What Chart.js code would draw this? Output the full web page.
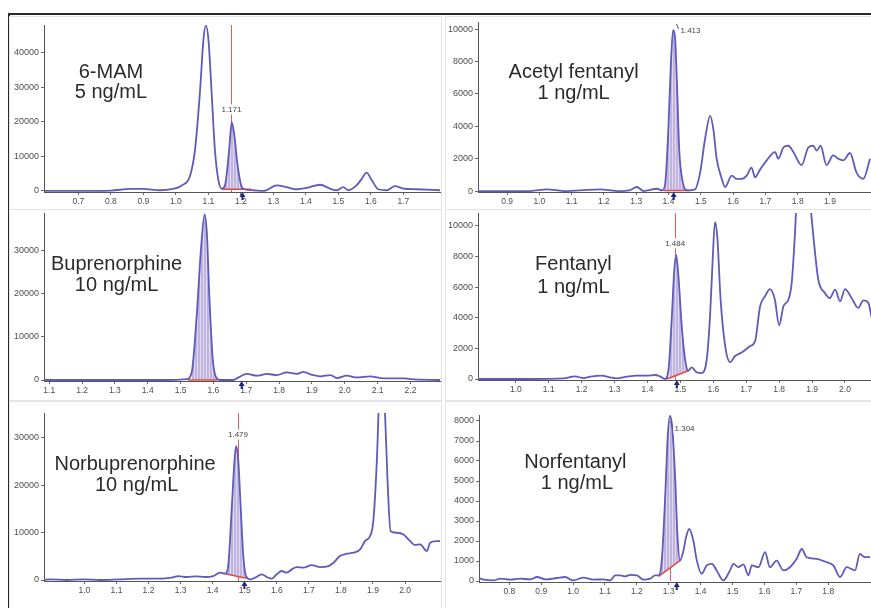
<!DOCTYPE html>
<html>
<head>
<meta charset="utf-8">
<script src="https://cdn.jsdelivr.net/npm/chart.js@4.4.1/dist/chart.umd.min.js"></script>
<style>
  html, body { margin: 0; padding: 0; background: #fff; }
  body { width: 871px; height: 608px; position: relative; overflow: hidden; }
  .frame { position: absolute; left: 8px; top: 13px; width: 900px; height: 700px; border-top: 2px solid #2b2b2b; border-left: 2px solid #2b2b2b; }
  .panel { position: absolute; outline: 1px solid #e4e4e4; background: #fff; }
  .panel canvas { display: block; }
</style>
</head>
<body>
<div class="frame"></div>
<div class="panel" style="left:10px;top:17px;width:431px;height:193px"><canvas id="mamChart"></canvas></div>
<div class="panel" style="left:446px;top:17px;width:425px;height:193px"><canvas id="acetylChart"></canvas></div>
<div class="panel" style="left:10px;top:210px;width:431px;height:190px"><canvas id="bupChart"></canvas></div>
<div class="panel" style="left:446px;top:210px;width:425px;height:190px"><canvas id="fentChart"></canvas></div>
<div class="panel" style="left:10px;top:402px;width:431px;height:206px"><canvas id="norbupChart"></canvas></div>
<div class="panel" style="left:446px;top:402px;width:425px;height:206px"><canvas id="norfentChart"></canvas></div>
<script>
// retention time (min) and signal (counts)
const mamTime = [0.597, 0.70, 0.80, 0.86, 0.90, 0.95, 0.99, 1.018, 1.044, 1.059, 1.074, 1.085, 1.092, 1.10, 1.11, 1.12, 1.131, 1.141, 1.151, 1.156, 1.164, 1.172, 1.180, 1.190, 1.201, 1.211, 1.238, 1.27, 1.31, 1.34, 1.372, 1.403, 1.444, 1.474, 1.495, 1.515, 1.53, 1.556, 1.572, 1.587, 1.603, 1.623, 1.649, 1.674, 1.70, 1.741, 1.813];
const mamSignal = [0, 0, 100, 600, 600, 200, 600, 1600, 4500, 12000, 28500, 44000, 47800, 44000, 28500, 12000, 3000, 700, 1600, 4500, 12000, 19900, 16000, 7400, 1600, 500, 200, 0, 1600, 1100, 500, 900, 1800, 700, 200, 1100, 200, 1600, 3500, 5300, 3100, 500, 200, 1400, 700, 500, 200];
const mamXTicks = [0.7, 0.8, 0.9, 1.0, 1.1, 1.2, 1.3, 1.4, 1.5, 1.6, 1.7];
const mamYTicks = [0, 10000, 20000, 30000, 40000];

const acetylTime = [0.81, 0.972, 1.024, 1.075, 1.127, 1.189, 1.24, 1.281, 1.302, 1.323, 1.364, 1.38, 1.389, 1.399, 1.407, 1.414, 1.42, 1.426, 1.433, 1.444, 1.459, 1.482, 1.498, 1.513, 1.529, 1.539, 1.549, 1.565, 1.575, 1.596, 1.611, 1.627, 1.642, 1.657, 1.668, 1.684, 1.704, 1.73, 1.74, 1.756, 1.771, 1.787, 1.812, 1.833, 1.848, 1.859, 1.871, 1.889, 1.91, 1.925, 1.941, 1.962, 1.982, 2.003, 2.024];
const acetylSignal = [0, 0, 100, 0, 40, 100, 0, 60, 250, 0, 140, 40, 350, 3600, 7700, 9950, 9550, 6700, 2600, 550, 40, 100, 1150, 3200, 4650, 3800, 2000, 750, 250, 950, 750, 750, 950, 1450, 850, 1350, 1900, 2400, 2000, 2700, 2800, 2400, 1600, 2700, 2800, 2500, 2800, 1600, 2200, 2000, 1900, 2350, 1150, 750, 2000];
const acetylXTicks = [0.9, 1.0, 1.1, 1.2, 1.3, 1.4, 1.5, 1.6, 1.7, 1.8, 1.9];
const acetylYTicks = [0, 2000, 4000, 6000, 8000, 10000];

const bupTime = [1.085, 1.458, 1.519, 1.534, 1.549, 1.562, 1.573, 1.58, 1.588, 1.598, 1.608, 1.62, 1.661, 1.676, 1.702, 1.732, 1.763, 1.793, 1.823, 1.854, 1.874, 1.9, 1.925, 1.956, 1.976, 2.006, 2.037, 2.078, 2.108, 2.138, 2.179, 2.2, 2.29];
const bupSignal = [0, 0, 200, 1800, 14800, 30200, 38400, 34000, 18600, 4800, 600, 0, 0, 600, 1400, 1000, 1400, 1150, 1750, 1400, 1900, 1200, 850, 1150, 450, 1000, 600, 850, 450, 400, 400, 200, 0];
const bupXTicks = [1.1, 1.2, 1.3, 1.4, 1.5, 1.6, 1.7, 1.8, 1.9, 2.0, 2.1, 2.2];
const bupYTicks = [0, 10000, 20000, 30000];

const fentTime = [0.885, 1.044, 1.145, 1.18, 1.205, 1.226, 1.261, 1.286, 1.307, 1.337, 1.367, 1.398, 1.423, 1.438, 1.453, 1.464, 1.474, 1.481, 1.487, 1.494, 1.504, 1.514, 1.524, 1.534, 1.55, 1.565, 1.58, 1.59, 1.598, 1.605, 1.612, 1.622, 1.636, 1.651, 1.666, 1.686, 1.712, 1.727, 1.742, 1.757, 1.772, 1.787, 1.8, 1.813, 1.828, 1.838, 1.848, 1.856, 1.873, 1.89, 1.904, 1.919, 1.939, 1.954, 1.97, 1.985, 2.0, 2.02, 2.04, 2.056, 2.071, 2.081];
const fentSignal = [0, 0, 40, 170, 60, 150, 220, 110, 40, 150, 220, 220, 260, 170, 0, 650, 4100, 7000, 8100, 6700, 3450, 1300, 540, 760, 430, 390, 1300, 4100, 7800, 10250, 9300, 5200, 2150, 1100, 1500, 1730, 2150, 2480, 4750, 5400, 5870, 5180, 3500, 4750, 5180, 6260, 9500, 13000, 16000, 12500, 9300, 6480, 5620, 5290, 5830, 5080, 5870, 5290, 4640, 5130, 4970, 4000];
const fentXTicks = [1.0, 1.1, 1.2, 1.3, 1.4, 1.5, 1.6, 1.7, 1.8, 1.9, 2.0];
const fentYTicks = [0, 2000, 4000, 6000, 8000, 10000];

const norbupTime = [0.875, 0.893, 0.945, 0.997, 1.049, 1.111, 1.174, 1.236, 1.272, 1.293, 1.319, 1.35, 1.376, 1.402, 1.423, 1.439, 1.449, 1.459, 1.468, 1.473, 1.48, 1.488, 1.496, 1.504, 1.517, 1.532, 1.553, 1.569, 1.584, 1.6, 1.615, 1.631, 1.647, 1.662, 1.683, 1.709, 1.735, 1.761, 1.777, 1.797, 1.818, 1.839, 1.86, 1.875, 1.891, 1.901, 1.912, 1.92, 1.928, 1.936, 1.945, 1.955, 1.974, 1.995, 2.016, 2.031, 2.047, 2.068, 2.078, 2.099, 2.109];
const norbupSignal = [0, 140, 0, 140, 0, 140, 280, 280, 500, 840, 630, 770, 630, 840, 1550, 1340, 3300, 14500, 25100, 28250, 25100, 14500, 4700, 840, 140, 500, 1200, 630, 280, 1200, 1900, 1550, 2250, 2740, 2600, 3160, 2740, 2950, 3650, 5060, 5550, 5760, 6460, 8220, 9280, 12440, 25100, 40000, 46000, 38000, 21600, 10300, 9980, 9630, 8220, 7380, 7520, 6110, 7870, 8220, 8220];
const norbupXTicks = [1.0, 1.1, 1.2, 1.3, 1.4, 1.5, 1.6, 1.7, 1.8, 1.9, 2.0];
const norbupYTicks = [0, 10000, 20000, 30000];

const norfentTime = [0.705, 0.72, 0.751, 0.772, 0.803, 0.834, 0.866, 0.887, 0.913, 0.949, 0.975, 1.0, 1.033, 1.064, 1.095, 1.116, 1.132, 1.148, 1.163, 1.179, 1.2, 1.221, 1.242, 1.257, 1.268, 1.278, 1.289, 1.297, 1.304, 1.311, 1.32, 1.327, 1.335, 1.346, 1.354, 1.364, 1.377, 1.388, 1.403, 1.419, 1.435, 1.45, 1.471, 1.492, 1.503, 1.518, 1.534, 1.55, 1.56, 1.581, 1.602, 1.617, 1.638, 1.659, 1.68, 1.701, 1.717, 1.732, 1.763, 1.795, 1.816, 1.837, 1.858, 1.884, 1.899, 1.915, 1.931];
const norfentSignal = [150, 70, 30, 120, 70, 120, 80, 200, 80, 150, 200, 30, 170, 70, 80, 30, 280, 280, 230, 310, 280, 70, 120, 280, 280, 1020, 4330, 7300, 8260, 7640, 5160, 2350, 1020, 1520, 2180, 2600, 2020, 1020, 360, 780, 860, 530, 30, 530, 860, 690, 830, 280, 780, 690, 1440, 690, 1020, 530, 690, 1110, 1600, 1190, 1110, 940, 780, 200, 690, 530, 1350, 1190, 1190];
const norfentXTicks = [0.8, 0.9, 1.0, 1.1, 1.2, 1.3, 1.4, 1.5, 1.6, 1.7, 1.8];
const norfentYTicks = [0, 1000, 2000, 3000, 4000, 5000, 6000, 7000, 8000];

const TRACE_COLOR = "#5f5abb";
const BASELINE_COLOR = "#e5483f";
const RT_COLOR = "#ea5a5a";
const FONT = "'Liberation Sans', Arial, sans-serif";

const PANELS = [
  {
    canvas: "mamChart", time: mamTime, signal: mamSignal, xTicks: mamXTicks, yTicks: mamYTicks,
    x: [0.594, 1.813], y: [-300, 48000], box: { axisW: 34, axisH: 18, top: 8, right: 1 },
    baseline: [[1.141, 500], [1.232, 500]],
    rt: 1.171, rtLabel: { text: "1.171", x: 1.171, y: 23600, align: "center" }, marker: 1.205,
    names: [{ text: "6-MAM", x: 0.8, y: 32800 }, { text: "5 ng/mL", x: 0.8, y: 26800 }],
  },
  {
    canvas: "acetylChart", time: acetylTime, signal: acetylSignal, xTicks: acetylXTicks, yTicks: acetylYTicks,
    x: [0.81, 2.027], y: [-60, 10450], box: { axisW: 32, axisH: 18, top: 5, right: 0 },
    baseline: [[1.385, 30], [1.468, 30]],
    rt: null, rtLabel: { text: "1.413", x: 1.437, y: 9900, align: "left", tick: true }, marker: 1.416,
    names: [{ text: "Acetyl fentanyl", x: 1.106, y: 6990 }, { text: "1 ng/mL", x: 1.106, y: 5660 }],
  },
  {
    canvas: "bupChart", time: bupTime, signal: bupSignal, xTicks: bupXTicks, yTicks: bupYTicks,
    x: [1.084, 2.29], y: [-230, 38700], box: { axisW: 34, axisH: 19, top: 3, right: 1 },
    baseline: [[1.522, 0], [1.612, 0]],
    rt: null, rtLabel: null, marker: 1.686,
    names: [{ text: "Buprenorphine", x: 1.305, y: 25560 }, { text: "10 ng/mL", x: 1.305, y: 20720 }],
  },
  {
    canvas: "fentChart", time: fentTime, signal: fentSignal, xTicks: fentXTicks, yTicks: fentYTicks,
    x: [0.885, 2.079], y: [-65, 10840], box: { axisW: 32, axisH: 20, top: 3, right: 0 },
    baseline: [[1.459, 0], [1.524, 540]],
    rt: 1.484, rtLabel: { text: "1.484", x: 1.484, y: 8860, align: "center" }, marker: 1.489,
    names: [{ text: "Fentanyl", x: 1.175, y: 7130 }, { text: "1 ng/mL", x: 1.175, y: 5620 }],
  },
  {
    canvas: "norbupChart", time: norbupTime, signal: norbupSignal, xTicks: norbupXTicks, yTicks: norbupYTicks,
    x: [0.874, 2.109], y: [-210, 35260], box: { axisW: 34, axisH: 27, top: 11, right: 1 },
    baseline: [[1.439, 1340], [1.505, 350]],
    rt: 1.479, rtLabel: { text: "1.479", x: 1.479, y: 30700, align: "center" }, marker: 1.499,
    names: [{ text: "Norbuprenorphine", x: 1.158, y: 23320 }, { text: "10 ng/mL", x: 1.163, y: 18750 }],
  },
  {
    canvas: "norfentChart", time: norfentTime, signal: norfentSignal, xTicks: norfentXTicks, yTicks: norfentYTicks,
    x: [0.705, 1.934], y: [-50, 8300], box: { axisW: 33, axisH: 26, top: 13, right: 0 },
    baseline: [[1.268, 230], [1.335, 1020]],
    rt: 1.304, rtSpan: [0, 700], rtLabel: { text: "1.304", x: 1.318, y: 7620, align: "left", tick: true }, marker: 1.325,
    names: [{ text: "Norfentanyl", x: 1.007, y: 5670 }, { text: "1 ng/mL", x: 1.012, y: 4580 }],
  },
];

function points(time, signal) {
  return time.map((t, i) => ({ x: t, y: signal[i] }));
}

function hatchPattern(ctx) {
  const c = document.createElement("canvas");
  c.width = 3; c.height = 4;
  const g = c.getContext("2d");
  g.fillStyle = "#bcb7e2"; g.fillRect(0, 0, 3, 4);
  g.fillStyle = "#e8d6e8"; g.fillRect(1, 0, 1, 4);
  return ctx.createPattern(c, "repeat");
}

function chromaMarks(panel) {
  return {
    id: "chromaMarks",
    beforeDatasetsDraw(chart) {
      if (panel.rt == null) return;
      const { ctx, chartArea, scales: { x, y } } = chart;
      const px = Math.round(x.getPixelForValue(panel.rt)) + 0.5;
      const top = panel.rtSpan ? y.getPixelForValue(panel.rtSpan[1]) : chartArea.top;
      const bottom = panel.rtSpan ? y.getPixelForValue(panel.rtSpan[0]) : chartArea.bottom;
      ctx.save();
      ctx.strokeStyle = RT_COLOR;
      ctx.lineWidth = 1;
      ctx.beginPath(); ctx.moveTo(px, top); ctx.lineTo(px, bottom); ctx.stroke();
      ctx.restore();
    },
    afterDatasetsDraw(chart) {
      const { ctx, chartArea, scales: { x, y } } = chart;
      ctx.save();
      const l = panel.rtLabel;
      if (l) {
        ctx.font = `8px ${FONT}`;
        ctx.textAlign = l.align;
        ctx.textBaseline = "middle";
        const lx = x.getPixelForValue(l.x), ly = y.getPixelForValue(l.y);
        const w = ctx.measureText(l.text).width;
        const left = l.align === "center" ? lx - w / 2 : lx;
        ctx.fillStyle = "#fff";
        ctx.fillRect(left - 1, ly - 5, w + 2, 10);
        ctx.fillStyle = "#444";
        ctx.fillText(l.text, lx, ly);
        if (l.tick) {
          ctx.strokeStyle = "#555"; ctx.lineWidth = 1;
          ctx.beginPath(); ctx.moveTo(left - 4, ly - 7); ctx.lineTo(left - 2, ly - 2); ctx.stroke();
        }
      }
      if (panel.marker != null) {
        const mx = x.getPixelForValue(panel.marker), my = chartArea.bottom;
        ctx.fillStyle = "#1d2a78";
        ctx.beginPath(); ctx.moveTo(mx, my); ctx.lineTo(mx - 3, my + 5); ctx.lineTo(mx + 3, my + 5); ctx.closePath(); ctx.fill();
        ctx.fillRect(mx - 1, my + 5, 2, 3);
      }
      ctx.font = `20px ${FONT}`;
      ctx.fillStyle = "#2b2b2b";
      ctx.textAlign = "center";
      ctx.textBaseline = "alphabetic";
      panel.names.forEach((n) => ctx.fillText(n.text, x.getPixelForValue(n.x), y.getPixelForValue(n.y)));
      ctx.restore();
    },
  };
}

function axisOptions(panel, axis) {
  const horizontal = axis === "x";
  const ticks = horizontal ? panel.xTicks : panel.yTicks;
  const range = horizontal ? panel.x : panel.y;
  return {
    type: "linear",
    min: range[0],
    max: range[1],
    afterBuildTicks: (scale) => { scale.ticks = ticks.map((v) => ({ value: v })); },
    afterFit: (scale) => {
      if (horizontal) scale.height = panel.box.axisH;
      else scale.width = panel.box.axisW;
      scale.paddingTop = 0; scale.paddingBottom = 0; scale.paddingLeft = 0; scale.paddingRight = 0;
    },
    ticks: {
      autoSkip: false,
      maxRotation: 0,
      padding: 2,
      color: "#4d4d4d",
      font: { size: horizontal ? 8.5 : 9 },
      callback: (v) => (horizontal ? v.toFixed(1) : String(v)),
    },
    grid: { drawOnChartArea: false, tickLength: 3, color: "#6a6a6a" },
    border: { color: "#555", width: 1 },
  };
}

function initPanel(panel) {
  const canvas = document.getElementById(panel.canvas);
  const [b0, b1] = panel.baseline;
  const peak = points(panel.time, panel.signal).filter((p) => p.x >= b0[0] && p.x <= b1[0]);
  return new Chart(canvas, {
    type: "line",
    data: {
      datasets: [
        { data: points(panel.time, panel.signal), borderColor: TRACE_COLOR, borderWidth: 1.8, pointRadius: 0, cubicInterpolationMode: "monotone", fill: false },
        { data: [{ x: b0[0], y: b0[1] }, { x: b1[0], y: b1[1] }], borderColor: BASELINE_COLOR, borderWidth: 1.5, pointRadius: 0, fill: false },
        { data: peak, borderWidth: 0, borderColor: "rgba(0,0,0,0)", pointRadius: 0, cubicInterpolationMode: "monotone", backgroundColor: hatchPattern(canvas.getContext("2d")), fill: 1 },
      ],
    },
    options: {
      responsive: true,
      maintainAspectRatio: false,
      animation: false,
      events: [],
      layout: { padding: { top: panel.box.top, right: panel.box.right, left: 0, bottom: 0 } },
      plugins: { legend: { display: false }, tooltip: { enabled: false } },
      scales: { x: axisOptions(panel, "x"), y: axisOptions(panel, "y") },
    },
    plugins: [chromaMarks(panel)],
  });
}

Chart.defaults.font.family = FONT;
PANELS.forEach(initPanel);
</script>
</body>
</html>
